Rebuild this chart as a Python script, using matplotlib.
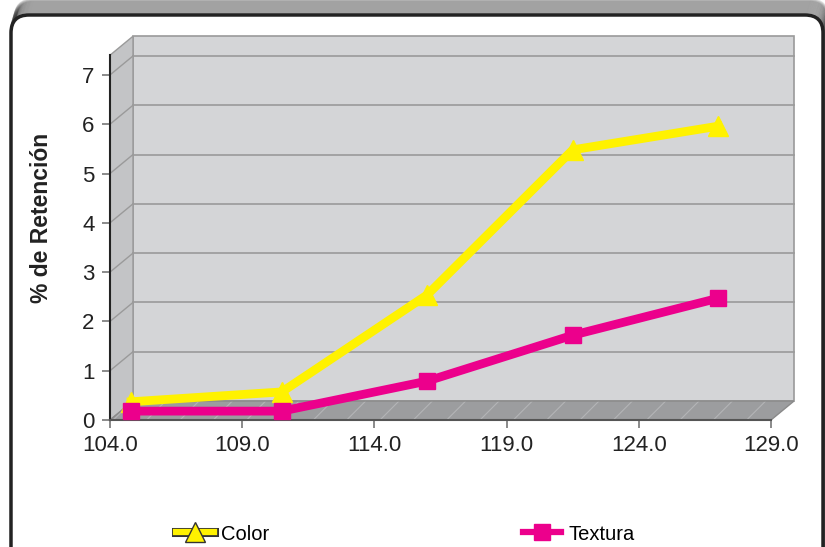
import matplotlib.pyplot as plt
from matplotlib.patches import Polygon, Rectangle, FancyBboxPatch
from matplotlib.lines import Line2D

plt.rcParams["font.family"] = ["Liberation Sans", "DejaVu Sans"]
plt.rcParams["hatch.linewidth"] = 0.8

# datos
temperatura = [104.8, 110.5, 116.0, 121.5, 127.0]
color = [0.37, 0.57, 2.54, 5.48, 5.96]
textura = [0.18, 0.18, 0.79, 1.72, 2.47]
yticks = [0, 1, 2, 3, 4, 5, 6, 7]
xticks = [104.0, 109.0, 114.0, 119.0, 124.0, 129.0]

AMARILLO = "#fff200"
MAGENTA = "#ec008c"

W, H = 825, 547
fig = plt.figure(figsize=(W / 100, H / 100), dpi=100)

# capa de fondo en pixeles para el marco redondeado con sombra
bg = fig.add_axes([0, 0, 1, 1], zorder=0)
bg.set_xlim(0, W)
bg.set_ylim(H, 0)
bg.axis("off")
for k in range(1, 16):
    bg.add_patch(FancyBboxPatch((11 + k * 0.3, 15 - k), 812, 600,
                                boxstyle="round,pad=0,rounding_size=18",
                                fc="none", ec="#333333", lw=2.5, alpha=0.16))
bg.add_patch(FancyBboxPatch((11, 15), 812, 600, boxstyle="round,pad=0,rounding_size=18",
                            fc="white", ec="#222222", lw=2.5))

# area del grafico
ax = fig.add_axes([110 / W, 1 - 420 / H, 661 / W, 364.8 / H], zorder=1)
ax.patch.set_visible(False)
ax.set_xlim(104, 129)
ax.set_ylim(0, 7.4)
DX, DY = 0.87, 0.385
X0, X1, YT = 104, 129, 7.4

# pared del fondo, pared lateral y piso
ax.add_patch(Rectangle((X0 + DX, DY), X1 - X0, YT, fc="#d4d5d7", ec="#9a9a9a",
                       lw=1.2, clip_on=False, zorder=0))
ax.add_patch(Polygon([(X0, 0), (X0, YT), (X0 + DX, YT + DY), (X0 + DX, DY)],
                     closed=True, fc="#c3c4c6", ec="#9a9a9a", lw=1.0, clip_on=False, zorder=0))
ax.add_patch(Polygon([(X0, 0), (X1, 0), (X1 + DX, DY), (X0 + DX, DY)],
                     closed=True, fc="#9c9d9f", ec="#b4b5b7", hatch="/", lw=0,
                     clip_on=False, zorder=0.5))
ax.add_patch(Polygon([(X0, 0), (X1, 0), (X1 + DX, DY), (X0 + DX, DY)],
                     closed=True, fc="none", ec="#8a8a8a", lw=1.0, clip_on=False, zorder=0.6))

for v in yticks[1:]:
    ax.plot([X0 + DX, X1 + DX], [v + DY, v + DY], color="#9a9a9a", lw=1.2,
            clip_on=False, zorder=0.7)
    ax.plot([X0, X0 + DX], [v, v + DY], color="#9a9a9a", lw=1.0, clip_on=False, zorder=0.7)

# series
ax.plot(temperatura, color, color=AMARILLO, lw=6.3, marker="^", ms=15,
        mec=AMARILLO, clip_on=False, zorder=3, solid_joinstyle="miter")
ax.plot(temperatura, textura, color=MAGENTA, lw=6.3, marker="s", ms=11,
        mec=MAGENTA, clip_on=False, zorder=4, solid_joinstyle="miter")

# ejes
for s in ["top", "right"]:
    ax.spines[s].set_visible(False)
ax.spines["left"].set_color("#222222")
ax.spines["left"].set_linewidth(1.5)
ax.spines["bottom"].set_color("#555555")
ax.spines["bottom"].set_linewidth(1.5)
ax.set_yticks(yticks)
ax.set_yticklabels([str(v) for v in yticks])
ax.set_xticks(xticks)
ax.set_xticklabels([f"{v:.1f}" for v in xticks])
ax.tick_params(axis="both", colors="#777777", length=6, width=1.2,
               labelsize=16, labelcolor="#222222", pad=5)

fig.text(42 / W, 1 - 218 / H, "% de Retención", rotation=90, ha="center", va="center",
         fontsize=16.5, fontweight="bold", color="#222222")

# leyenda: linea con contorno oscuro para Color
h_color = (Line2D([], [], color="#333333", lw=6.5),
           Line2D([], [], color=AMARILLO, lw=4.5),
           Line2D([], [], ls="none", marker="^", ms=14, mfc=AMARILLO, mec="#333333", mew=1))
h_text = Line2D([], [], color=MAGENTA, lw=4.5, marker="s", ms=11, mec=MAGENTA)
fig.legend([h_color, h_text], ["Color", "Textura"], loc="center",
           bbox_to_anchor=(405 / W, 1 - 534 / H), ncol=2, frameon=False,
           fontsize=14.5, handlelength=1.9, handletextpad=0.35, columnspacing=12.6)

fig.savefig("out.png", dpi=100)
